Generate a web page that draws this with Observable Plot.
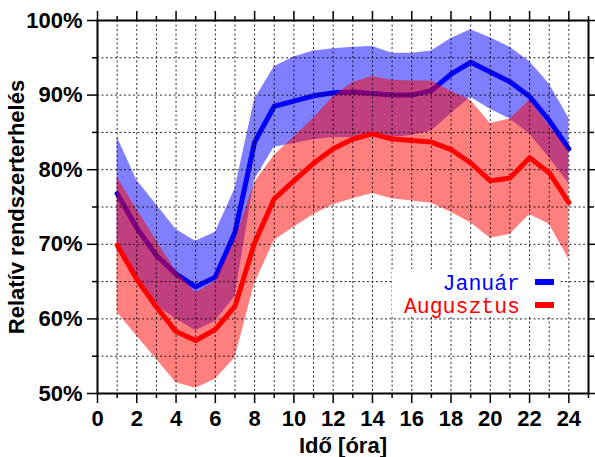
<!DOCTYPE html>
<html>
<head>
<meta charset="utf-8">
<script src="https://cdn.jsdelivr.net/npm/d3@7"></script>
<script src="https://cdn.jsdelivr.net/npm/@observablehq/plot@0.6"></script>
<style>
html, body { margin: 0; padding: 0; background: #ffffff; }
</style>
</head>
<body>
<div id="chart"></div>
<script>
// ---- data ----
const hours = [1, 2, 3, 4, 5, 6, 7, 8, 9, 10, 11, 12, 13, 14, 15, 16, 17, 18, 19, 20, 21, 22, 23, 24];

const janMean = [76.8, 72.2, 68.5, 66.0, 64.3, 65.6, 71.6, 83.7, 88.5, 89.2, 89.9, 90.3, 90.4, 90.2, 90.0, 90.0, 90.6, 92.8, 94.4, 93.1, 91.8, 89.8, 86.6, 82.8];
const janHigh = [84.4, 78.6, 75.3, 72.0, 70.4, 71.6, 77.4, 89.4, 93.8, 95.1, 95.9, 96.2, 96.4, 96.5, 95.6, 95.6, 95.9, 97.6, 98.75, 97.7, 96.4, 94.5, 91.5, 86.9];
const janLow  = [70.5, 65.8, 61.8, 60.0, 58.4, 59.7, 63.0, 78.7, 83.0, 83.5, 84.0, 84.3, 84.3, 84.4, 84.3, 84.6, 85.2, 87.5, 89.7, 88.1, 86.8, 84.8, 81.6, 78.1];

const augMean = [69.9, 65.3, 61.6, 58.3, 57.1, 58.6, 61.7, 70.2, 76.1, 78.5, 80.85, 82.8, 84.1, 84.8, 84.1, 83.9, 83.7, 82.7, 80.9, 78.5, 78.9, 81.6, 79.6, 75.6];
const augHigh = [79.0, 74.7, 70.5, 66.4, 63.5, 65.0, 70.5, 78.3, 81.9, 84.4, 86.9, 89.8, 91.7, 92.5, 92.0, 91.9, 91.9, 90.5, 89.3, 86.2, 86.8, 89.3, 85.9, 82.5];
const augLow  = [60.9, 57.7, 54.6, 51.45, 50.7, 51.9, 54.8, 64.7, 70.5, 72.3, 74.0, 75.3, 76.1, 76.8, 76.1, 75.8, 75.5, 74.3, 72.9, 70.8, 71.3, 74.0, 72.7, 68.0];

const seriesNames = ["Január", "Augusztus"];
const seriesColors = ["#0000ff", "#ff0000"];

const xMajorTicks = [0, 2, 4, 6, 8, 10, 12, 14, 16, 18, 20, 22, 24];
const xMinorTicks = [1, 3, 5, 7, 9, 11, 13, 15, 17, 19, 21, 23, 25];
const xGridLines  = [1, 2, 3, 4, 5, 6, 7, 8, 9, 10, 11, 12, 13, 14, 15, 16, 17, 18, 19, 20, 21, 22, 23, 24];
const yMajorTicks = [50, 60, 70, 80, 90, 100];
const yMinorTicks = [55, 65, 75, 85, 95];
const yGridLines  = [55, 60, 65, 70, 75, 80, 85, 90, 95];

const xLabel = "Idő [óra]";
const yLabel = "Relatív rendszerterhelés";

// ---- table built from the arrays ----
const rows = hours.map((h, i) => ({
  hour: h,
  janMean: janMean[i], janLow: janLow[i], janHigh: janHigh[i],
  augMean: augMean[i], augLow: augLow[i], augHigh: augHigh[i]
}));

// legend drawn as a custom render mark, positioned relative to the frame
function legendMark(index, scales, values, dimensions) {
  const right = dimensions.width - dimensions.marginRight;
  const bottom = dimensions.height - dimensions.marginBottom;
  const g = d3.create("svg:g");
  g.append("rect")
    .attr("x", right - 196).attr("y", bottom - 124)
    .attr("width", 168).attr("height", 48)
    .attr("fill", "#ffffff");
  seriesNames.forEach((name, i) => {
    const base = bottom - 103 + i * 23;
    g.append("text")
      .attr("x", right - 68).attr("y", base)
      .attr("text-anchor", "end")
      .attr("fill", seriesColors[i])
      .style("font-family", "'Liberation Mono', 'Courier New', monospace")
      .style("font-weight", "normal")
      .style("font-size", "21.5px")
      .text(name);
    g.append("line")
      .attr("x1", right - 53).attr("x2", right - 34)
      .attr("y1", base - 8).attr("y2", base - 8)
      .attr("stroke", seriesColors[i])
      .attr("stroke-width", 6);
  });
  return g.node();
}

const chart = Plot.plot({
  width: 595,
  height: 457,
  marginLeft: 97,
  marginRight: 7,
  marginTop: 20,
  marginBottom: 64,
  style: {
    fontFamily: "'Liberation Sans', Arial, Helvetica, sans-serif",
    fontSize: "22px",
    fontWeight: "bold",
    color: "#000",
    background: "#fff"
  },
  x: { domain: [0, 25] },
  y: { domain: [50, 100] },
  marks: [
    // January band and line, then the August band over them (overlap tints purple)
    Plot.areaY(rows, { x: "hour", y1: "janLow", y2: "janHigh", fill: seriesColors[0], fillOpacity: 0.5 }),
    Plot.line(rows, { x: "hour", y: "janMean", stroke: seriesColors[0], strokeWidth: 5, strokeLinejoin: "round" }),
    Plot.areaY(rows, { x: "hour", y1: "augLow", y2: "augHigh", fill: seriesColors[1], fillOpacity: 0.5 }),
    // grid
    Plot.gridX(xGridLines, { stroke: "#000", strokeOpacity: 0.85, strokeWidth: 1, strokeDasharray: "2,2.5" }),
    Plot.gridY(yGridLines, { stroke: "#000", strokeOpacity: 0.85, strokeWidth: 1, strokeDasharray: "2,2.5" }),
    Plot.line(rows, { x: "hour", y: "augMean", stroke: seriesColors[1], strokeWidth: 5, strokeLinejoin: "round" }),
    legendMark,
    // axes
    Plot.axisX({ anchor: "bottom", ticks: xMajorTicks, tickSize: 10, tickPadding: 7, strokeWidth: 1.5,
                 label: xLabel, labelAnchor: "center", labelOffset: 59, labelArrow: "none" }),
    Plot.axisX({ anchor: "bottom", ticks: xMinorTicks, tickSize: 5, tickFormat: () => "", strokeWidth: 1.5, label: null }),
    Plot.axisX({ anchor: "top", ticks: xMajorTicks, tickSize: 10, tickFormat: () => "", strokeWidth: 1.5, label: null }),
    Plot.axisX({ anchor: "top", ticks: xMinorTicks, tickSize: 5, tickFormat: () => "", strokeWidth: 1.5, label: null }),
    Plot.axisY({ anchor: "left", ticks: yMajorTicks, tickSize: 10, tickPadding: 5, tickFormat: d => d + "%", strokeWidth: 1.5,
                 label: yLabel, labelAnchor: "center", labelOffset: 89, labelArrow: "none" }),
    Plot.axisY({ anchor: "left", ticks: yMinorTicks, tickSize: 5, tickFormat: () => "", strokeWidth: 1.5, label: null }),
    Plot.axisY({ anchor: "right", ticks: yMajorTicks, tickSize: 10, tickFormat: () => "", strokeWidth: 1.5, label: null }),
    Plot.axisY({ anchor: "right", ticks: yMinorTicks, tickSize: 5, tickFormat: () => "", strokeWidth: 1.5, label: null }),
    Plot.frame({ stroke: "#000", strokeWidth: 2 })
  ]
});

document.getElementById("chart").appendChild(chart);
</script>
</body>
</html>
